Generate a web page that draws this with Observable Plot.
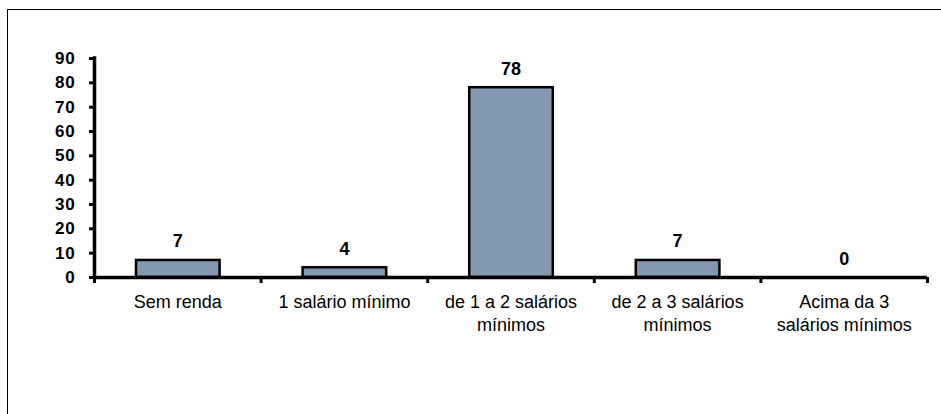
<!DOCTYPE html>
<html><head><meta charset="utf-8">
<script src="https://cdn.jsdelivr.net/npm/d3@7"></script>
<script src="https://cdn.jsdelivr.net/npm/@observablehq/plot@0.6"></script>
<style>
body{margin:0;background:#fff;}
#wrap{position:relative;width:941px;height:414px;overflow:hidden;background:#fff;}
#border{position:absolute;left:7px;top:9px;width:940px;height:410px;border-top:1.5px solid #000;border-left:1.5px solid #000;}
#chart{position:absolute;left:0;top:0;}
g[aria-label="xlab"] text{letter-spacing:1.1px;}
g[aria-label="vlab"] text{letter-spacing:0.6px;}
g[aria-label="y-axis tick label"] text{letter-spacing:0.8px;}
</style></head><body>
<div id="wrap"><div id="border"></div><div id="chart"></div></div>
<script>
const categories = ["Sem renda", "1 salário mínimo", "de 1 a 2 salários\nmínimos", "de 2 a 3 salários\nmínimos", "Acima da 3\nsalários mínimos"];
const values = [7, 4, 78, 7, 0];
const yTicks = [0, 10, 20, 30, 40, 50, 60, 70, 80, 90];

const data = categories.map((c, i) => ({i, c, v: values[i]}));
const bounds = d3.range(categories.length + 1);

const chart = Plot.plot({
  width: 941,
  height: 414,
  marginLeft: 94,
  marginRight: 14,
  marginTop: 58,
  marginBottom: 137,
  style: {fontFamily: "'Liberation Sans', Arial, sans-serif", fontSize: "15px", color: "#000", background: "transparent"},
  x: {type: "linear", domain: [0, categories.length], axis: null},
  y: {domain: [0, 90], axis: null},
  marks: [
    Plot.rectY(data, {x1: d => d.i, x2: d => d.i + 1, y: "v", insetLeft: 42, insetRight: 41,
      fill: "#8497B0", stroke: "#000", strokeWidth: 2.5}),
    Plot.axisY(yTicks, {tickSize: 5, tickPadding: 14, strokeWidth: 3, fontWeight: "bold", fontSize: 17, label: null}),
    Plot.ruleX([0], {y1: 0, y2: 90, strokeWidth: 3.5, strokeLinecap: "square"}),
    Plot.ruleY([0], {strokeWidth: 3.5}),
    Plot.axisX(bounds, {tickSize: 6, strokeWidth: 3, tickFormat: () => "", label: null}),
    Plot.text(data, {x: d => d.i + 0.5, y: "v", text: d => String(d.v), lineAnchor: "bottom", dy: -13,
      fontWeight: "bold", fontSize: 18, ariaLabel: "vlab"}),
    Plot.text(data, {x: d => d.i + 0.5, y: 0, text: "c", lineAnchor: "top", dy: 15,
      fontSize: 18, lineHeight: 1.25, ariaLabel: "xlab"})
  ]
});
document.getElementById("chart").appendChild(chart);
</script>
</body></html>
